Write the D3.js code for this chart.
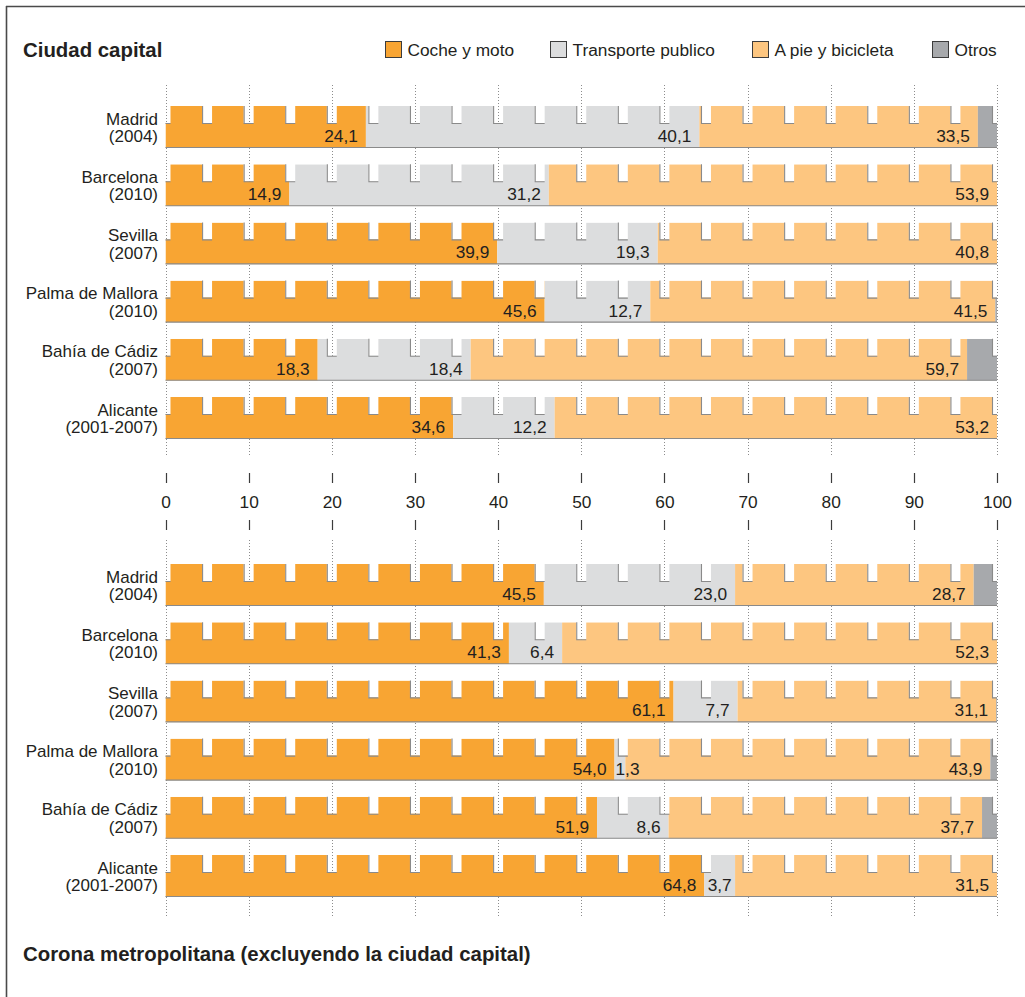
<!DOCTYPE html>
<html>
<head>
<meta charset="utf-8">
<script src="https://cdn.jsdelivr.net/npm/d3@7"></script>
<style>
  html, body { margin: 0; padding: 0; background: #fff; }
  svg { display: block; font-family: "Liberation Sans", Arial, sans-serif; }
</style>
</head>
<body>
<svg id="chart" width="1025" height="997"></svg>
<script>
// Reparto modal de los desplazamientos (%)
const cityNames = ["Madrid", "Barcelona", "Sevilla", "Palma de Mallora", "Bahía de Cádiz", "Alicante"];
const cityYears = ["(2004)", "(2010)", "(2007)", "(2010)", "(2007)", "(2001-2007)"];
const seriesNames = ["Coche y moto", "Transporte publico", "A pie y bicicleta", "Otros"];
const seriesColors = ["#f8a533", "#dcddde", "#fdc680", "#a7a9ac"];
const tickValues = [0, 10, 20, 30, 40, 50, 60, 70, 80, 90, 100];

// Ciudad capital
const capitalCoche = [24.1, 14.9, 39.9, 45.6, 18.3, 34.6];
const capitalTransporte = [40.1, 31.2, 19.3, 12.7, 18.4, 12.2];
const capitalPie = [33.5, 53.9, 40.8, 41.5, 59.7, 53.2];
const capitalOtros = [2.3, 0, 0, 0.2, 3.6, 0];

// Corona metropolitana (excluyendo la ciudad capital)
const coronaCoche = [45.5, 41.3, 61.1, 54.0, 51.9, 64.8];
const coronaTransporte = [23.0, 6.4, 7.7, 1.3, 8.6, 3.7];
const coronaPie = [28.7, 52.3, 31.1, 43.9, 37.7, 31.5];
const coronaOtros = [2.8, 0, 0.1, 0.8, 1.8, 0];

const svg = d3.select("#chart");
const textColor = "#231f20";
const keys = ["coche", "transporte", "pie", "otros"];

const x = d3.scaleLinear().domain([0, 100]).range([165.5, 997]);

const numFmt = d3.formatLocale({ decimal: ",", thousands: ".", grouping: [3], currency: ["", "€"] }).format(".1f");

function rows(coche, transporte, pie, otros) {
  return cityNames.map((n, i) => ({
    name: n, year: cityYears[i],
    coche: coche[i], transporte: transporte[i], pie: pie[i], otros: otros[i]
  }));
}
const capitalRows = rows(capitalCoche, capitalTransporte, capitalPie, capitalOtros);
const coronaRows = rows(coronaCoche, coronaTransporte, coronaPie, coronaOtros);

const stack = d3.stack().keys(keys);
const color = d3.scaleOrdinal().domain(keys).range(seriesColors);

// Frame (top and left rules)
svg.append("line").attr("x1", 6).attr("x2", 1025).attr("y1", 6.5).attr("y2", 6.5)
  .attr("stroke", "#4a4a4a").attr("stroke-width", 1.6);
svg.append("line").attr("x1", 6.5).attr("x2", 6.5).attr("y1", 6).attr("y2", 997)
  .attr("stroke", "#4a4a4a").attr("stroke-width", 1.6);

// Titles
svg.append("text").attr("x", 23).attr("y", 57)
  .attr("font-size", 20.4).attr("font-weight", "bold").attr("fill", textColor)
  .text("Ciudad capital");
svg.append("text").attr("x", 23).attr("y", 961)
  .attr("font-size", 20.4).attr("font-weight", "bold").attr("fill", textColor)
  .text("Corona metropolitana (excluyendo la ciudad capital)");

// Legend
const legendX = [385.5, 550.5, 752.5, 932.5];
const legend = svg.append("g");
seriesNames.forEach((s, i) => {
  legend.append("rect").attr("x", legendX[i]).attr("y", 41.5).attr("width", 16).attr("height", 16)
    .attr("fill", seriesColors[i]).attr("stroke", "#3c3c3c").attr("stroke-width", 1);
  legend.append("text").attr("x", legendX[i] + 22).attr("y", 56)
    .attr("font-size", 17.3).attr("fill", textColor).text(s);
});

// Notched bar outline: notches every 5 units
const bandH = 42, notchDepth = 17, notchHalf = 0.6;
const notchCenters = d3.range(0, 101, 5);
function notchedPath() {
  const p = d3.path();
  p.moveTo(x(0), bandH);
  p.lineTo(x(0), notchDepth);
  p.lineTo(x(notchHalf), notchDepth);
  p.lineTo(x(notchHalf), 0);
  notchCenters.slice(1, -1).forEach(c => {
    p.lineTo(x(c - notchHalf), 0);
    p.lineTo(x(c - notchHalf), notchDepth);
    p.lineTo(x(c + notchHalf), notchDepth);
    p.lineTo(x(c + notchHalf), 0);
  });
  p.lineTo(x(100 - notchHalf), 0);
  p.lineTo(x(100 - notchHalf), notchDepth);
  p.lineTo(x(100), notchDepth);
  p.lineTo(x(100), bandH);
  p.closePath();
  return p.toString();
}
svg.append("defs").append("clipPath").attr("id", "notched")
  .append("path").attr("d", notchedPath());

function panel(data, y0, gridTop, gridBottom) {
  const y = d3.scaleBand().domain(data.map(d => d.name + d.year))
    .range([y0, y0 + 333]).paddingInner(0.2784).paddingOuter(0);

  const g = svg.append("g");

  // Dotted grid
  g.selectAll("line.grid").data(tickValues).join("line")
    .attr("class", "grid")
    .attr("x1", d => Math.round(x(d)) + 0.5).attr("x2", d => Math.round(x(d)) + 0.5)
    .attr("y1", gridTop).attr("y2", gridBottom)
    .attr("stroke", "#8c8c8c").attr("stroke-width", 1).attr("stroke-dasharray", "1,2");

  const series = stack(data);
  const rowG = g.selectAll("g.row").data(data).join("g")
    .attr("class", "row")
    .attr("transform", d => `translate(0,${y(d.name + d.year)})`);

  const bars = rowG.append("g").attr("clip-path", "url(#notched)");
  bars.each(function (d, i) {
    d3.select(this).selectAll("rect").data(series.map(s => ({ key: s.key, v: s[i] })))
      .join("rect")
      .attr("x", s => x(s.v[0]))
      .attr("width", s => Math.max(0, x(s.v[1]) - x(s.v[0])))
      .attr("y", 0).attr("height", bandH)
      .attr("fill", s => color(s.key));
  });

  // Notch edges and base line
  rowG.each(function () {
    const r = d3.select(this);
    const p = d3.path();
    p.moveTo(x(0), notchDepth + 0.5); p.lineTo(x(notchHalf), notchDepth + 0.5);
    notchCenters.slice(1).forEach(c => {
      const l = x(c - notchHalf) + 0.5;
      const rr = Math.min(x(c + notchHalf), x(100));
      p.moveTo(l, 0); p.lineTo(l, notchDepth + 0.5); p.lineTo(rr, notchDepth + 0.5);
    });
    p.moveTo(x(0), bandH - 0.5); p.lineTo(x(100), bandH - 0.5);
    r.append("path").attr("d", p.toString()).attr("fill", "none")
      .attr("stroke", "#8a8a8a").attr("stroke-width", 1.1);
  });

  // Category labels, two lines each
  rowG.append("text").attr("text-anchor", "end").attr("font-size", 17)
    .attr("fill", textColor).attr("x", 158).attr("y", 18.5).text(d => d.name);
  rowG.append("text").attr("text-anchor", "end").attr("font-size", 17)
    .attr("fill", textColor).attr("x", 158).attr("y", 36.2).text(d => d.year);

  // Value labels (first three series)
  rowG.each(function (d, i) {
    const r = d3.select(this);
    series.slice(0, 3).forEach(s => {
      const a = x(s[i][0]), b = x(s[i][1]);
      const t = r.append("text").attr("font-size", 17.3).attr("fill", textColor)
        .attr("y", bandH - 6).text(numFmt(s[i][1] - s[i][0]));
      const tw = t.node().getComputedTextLength();
      if (b - a >= tw + 14) {
        t.attr("text-anchor", "end").attr("x", b - 8);
      } else {
        t.attr("x", Math.max(a + 1, (a + b) / 2 - tw / 2));
      }
    });
  });
}

panel(capitalRows, 106, 85, 456);
panel(coronaRows, 564, 540, 917);

// Shared scale between the panels
const axisG = svg.append("g");
axisG.selectAll("line.up").data(tickValues).join("line")
  .attr("x1", d => Math.round(x(d)) + 0.5).attr("x2", d => Math.round(x(d)) + 0.5)
  .attr("y1", 473).attr("y2", 483).attr("stroke", "#3c3c3c").attr("stroke-width", 1.2);
axisG.selectAll("line.down").data(tickValues).join("line")
  .attr("x1", d => Math.round(x(d)) + 0.5).attr("x2", d => Math.round(x(d)) + 0.5)
  .attr("y1", 520).attr("y2", 530).attr("stroke", "#3c3c3c").attr("stroke-width", 1.2);
const axis = d3.axisBottom(x).tickValues(tickValues).tickSize(0).tickPadding(0).tickFormat(d3.format("d"));
const ax = svg.append("g").attr("transform", "translate(0,496)").call(axis);
ax.select(".domain").remove();
ax.selectAll("text").attr("font-size", 17.3).attr("fill", textColor)
  .attr("font-family", "'Liberation Sans', Arial, sans-serif").attr("dy", "0.71em");
</script>
</body>
</html>
